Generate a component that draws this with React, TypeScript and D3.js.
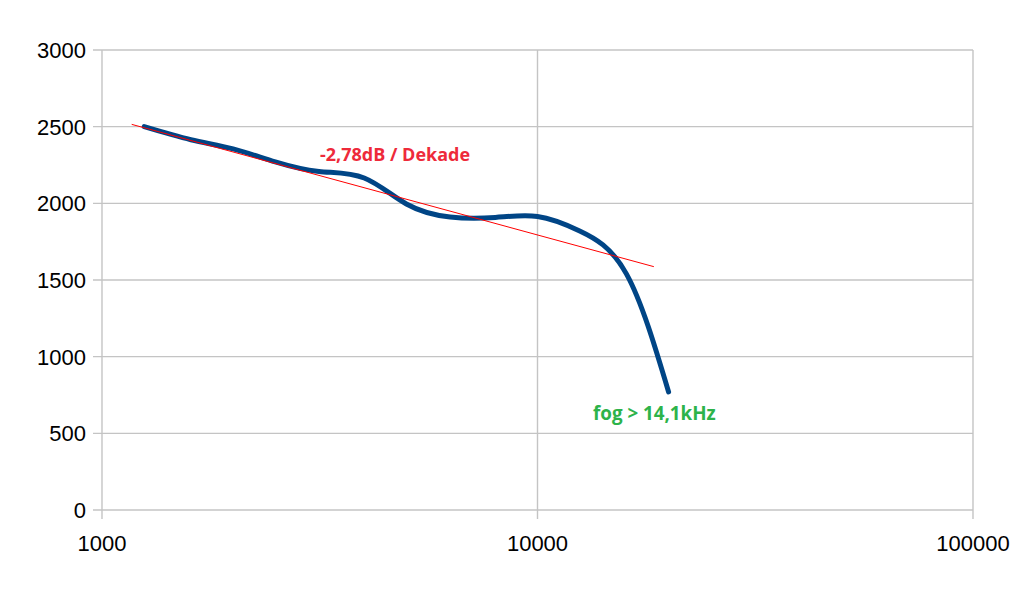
import React from "react";
import * as d3 from "d3";

const freqs = [1250, 1600, 2000, 2500, 3150, 4000, 5000, 6300, 8000, 10000, 12500, 16000, 20000];
const values = [2500, 2415, 2355, 2270, 2208, 2165, 1996, 1911, 1908, 1914, 1820, 1540, 770];
const trendFreqs = [1170, 18500];
const trendValues = [2515, 1587];
const yTicks = [0, 500, 1000, 1500, 2000, 2500, 3000];
const xTicks = [1000, 10000, 100000];
const trendLabel = "-2,78dB / Dekade";
const cutoffLabel = "fog > 14,1kHz";

export default function App() {
  const W = 1019, H = 595;
  const x = d3.scaleLog().domain([1000, 100000]).range([102, 973]);
  const y = d3.scaleLinear().domain([0, 3000]).range([510, 50]);
  const pts: [number, number][] = freqs.map((f, i) => [x(f), y(values[i])]);
  const line = d3.line<[number, number]>().x(d => d[0]).y(d => d[1]).curve(d3.curveNatural);
  const trend = d3.line<[number, number]>().x(d => d[0]).y(d => d[1]);
  const trendPts: [number, number][] = trendFreqs.map((f, i) => [x(f), y(trendValues[i])]);
  const grid = "#c4c4c4";
  const [x0, x1] = x.range();
  const [y0, y1] = y.range();
  return (
    <svg width={W} height={H} style={{ position: "absolute", left: 0, top: 0, background: "#fff" }}>
      <rect width={W} height={H} fill="#fff" />
      {yTicks.map(t => (
        <g key={"y" + t}>
          <line x1={x0 - 9} x2={x1} y1={y(t)} y2={y(t)} stroke={grid} strokeWidth={1.4} />
          <text x={86} y={y(t)} dy="0.36em" textAnchor="end" fontFamily="Liberation Sans, Arial, sans-serif" fontSize={22} fill="#000">{t}</text>
        </g>
      ))}
      {xTicks.map(t => (
        <g key={"x" + t}>
          <line x1={x(t)} x2={x(t)} y1={y1} y2={y0 + 9} stroke={grid} strokeWidth={1.4} />
          <text x={x(t)} y={551} textAnchor="middle" fontFamily="Liberation Sans, Arial, sans-serif" fontSize={22} fill="#000">{t}</text>
        </g>
      ))}
      <path d={line(pts) || ""} fill="none" stroke="#004586" strokeWidth={5} strokeLinecap="round" strokeLinejoin="round" />
      <path d={trend(trendPts) || ""} fill="none" stroke="#ff0000" strokeWidth={1} />
      <text x={320} y={161} fontFamily="Open Sans, sans-serif" fontWeight="bold" fontSize={18} fill="#ee2a3a">{trendLabel}</text>
      <text x={593} y={420} fontFamily="Open Sans, sans-serif" fontWeight="bold" fontSize={18.8} fill="#2db34a">{cutoffLabel}</text>
    </svg>
  );
}
